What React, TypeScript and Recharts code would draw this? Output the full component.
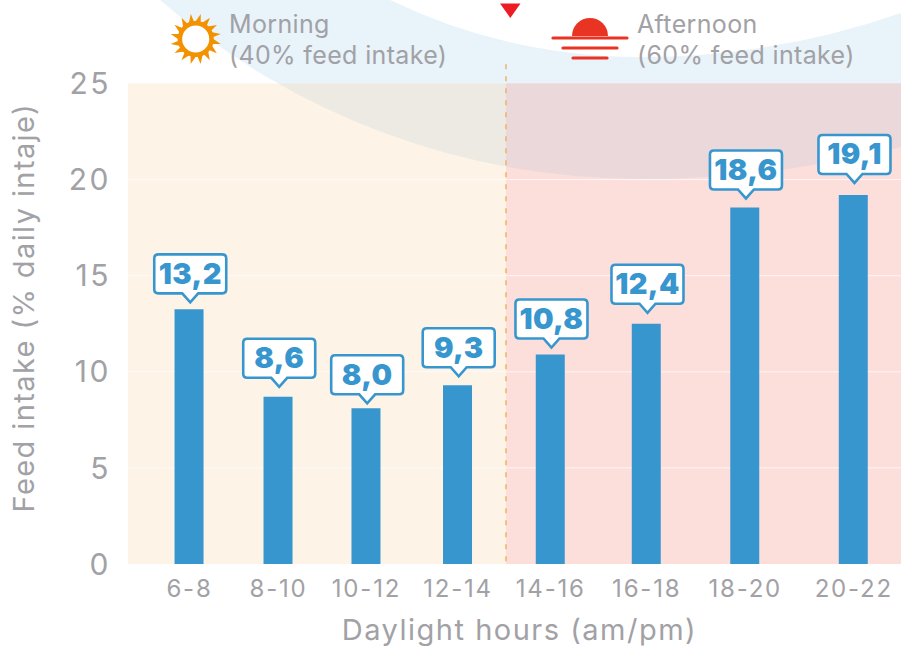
import React from "react";
import { BarChart, Bar, XAxis, YAxis, ReferenceArea, ReferenceLine, LabelList } from "recharts";

// Slots sit unevenly along the axis, so the axis is numeric (0-100 along its length).
const slotPositions = [7.96, 19.47, 30.85, 42.69, 54.69, 67.11, 79.85, 93.89];
const slotLabels = ["6-8", "8-10", "10-12", "12-14", "14-16", "16-18", "18-20", "20-22"];
const barValues = [13.25, 8.7, 8.1, 9.3, 10.9, 12.5, 18.55, 19.2];
const valueLabels = ["13,2", "8,6", "8,0", "9,3", "10,8", "12,4", "18,6", "19,1"];
const labelGaps = [7, 10, 5, 9, 7, 11, 9, 12];
const yTicks = [0, 5, 10, 15, 20, 25];
const gridValues = [5, 10, 15, 20];
const yMax = 25;
const noonPosition = 48.9;

const data = slotPositions.map((pos, i) => ({
  pos,
  value: barValues[i],
  text: valueLabels[i],
  gap: labelGaps[i],
}));

const FONT = "Inter, 'Open Sans', sans-serif";
const GREY = "#a1a1a6";
const BLUE = "#3896cf";
const ORANGE_BG = "#fdf3e7";
const PINK_BG = "#fcdedb";
const BAND_PATH =
  "M160 0 A733 733 0 0 0 640 179 A1080 1080 0 0 0 901 147 L901 13 A790 790 0 0 1 640 57 A577 577 0 0 1 390 0 Z";

function BandUnder() {
  return <path d={BAND_PATH} fill="#e9f3fa" />;
}

function shadedArea(base: string, tinted: string, clipId: string) {
  return (props: any) => {
    const { x, y, width, height } = props;
    return (
      <g>
        <defs>
          <clipPath id={clipId}>
            <path d={BAND_PATH} />
          </clipPath>
        </defs>
        <rect x={x} y={y} width={width} height={height} fill={base} />
        <rect x={x} y={y} width={width} height={height} fill={tinted} clipPath={`url(#${clipId})`} />
        {gridValues.map((v) => {
          const gy = y + height * (1 - v / yMax);
          return <line key={v} x1={x} x2={x + width} y1={gy} y2={gy} stroke="#ffffff" strokeOpacity={0.75} strokeWidth={1} />;
        })}
      </g>
    );
  };
}

function Sun() {
  const cx = 195.7;
  const cy = 39;
  const rays = Array.from({ length: 16 }, (_, i) => {
    const a = (i * Math.PI * 2) / 16 + 0.12;
    const pt = (r: number, da: number) =>
      `${cx + r * Math.cos(a + da)},${cy + r * Math.sin(a + da)}`;
    return <polygon key={i} points={`${pt(16, -0.2)} ${pt(25.5, 0.08)} ${pt(16, 0.2)}`} fill="#f39200" />;
  });
  return (
    <g>
      {rays}
      <circle cx={cx} cy={cy} r={15.8} fill="#fff" stroke="#f39200" strokeWidth={4.5} />
    </g>
  );
}

function Sunset() {
  const c = "#e93323";
  return (
    <g>
      <path d="M572 36 A18 18 0 0 1 608 36 Z" fill={c} />
      <line x1={553} x2={627} y1={38} y2={38} stroke={c} strokeWidth={3.2} strokeLinecap="round" />
      <line x1={563} x2={617} y1={48} y2={48} stroke={c} strokeWidth={3.2} strokeLinecap="round" />
      <line x1={573} x2={607} y1={58} y2={58} stroke={c} strokeWidth={3.2} strokeLinecap="round" />
    </g>
  );
}

function Header() {
  const t = { fontFamily: FONT, fontSize: 25, letterSpacing: 0.35, fill: GREY };
  return (
    <g>
      <Sun />
      <text x={229} y={33} {...t}>Morning</text>
      <text x={229} y={64} {...t}>(40% feed intake)</text>
      <Sunset />
      <text x={637} y={33} {...t}>Afternoon</text>
      <text x={637} y={64} {...t}>(60% feed intake)</text>
      <polygon points="500,3.5 520.5,3.5 510.3,18" fill="#ed1c24" />
    </g>
  );
}

function Callout(props: any) {
  const { x, y, width, index } = props;
  const d = data[index];
  const cx = x + width / 2 + 1.2;
  const tip = y - d.gap;
  const bottom = tip - 9;
  const top = bottom - 39;
  const l = cx - 36;
  const r = cx + 36;
  const rad = 4;
  const path = `M${l + rad} ${top} H${r - rad} Q${r} ${top} ${r} ${top + rad} V${bottom - rad} Q${r} ${bottom} ${r - rad} ${bottom} H${cx + 8} L${cx} ${tip} L${cx - 8} ${bottom} H${l + rad} Q${l} ${bottom} ${l} ${bottom - rad} V${top + rad} Q${l} ${top} ${l + rad} ${top} Z`;
  return (
    <g>
      <path d={path} fill="#fff" stroke={BLUE} strokeWidth={2.6} />
      <text x={cx} y={top + 29.5} textAnchor="middle" fontFamily={FONT} fontWeight={900} fontSize={29} letterSpacing={0.4} fill={BLUE}>
        {d.text}
      </text>
    </g>
  );
}

export default function App() {
  return (
    <div style={{ position: "absolute", left: 0, top: 0, width: 901, height: 646, background: "#fff" }}>
      <BarChart width={901} height={646} data={data} margin={{ top: 83.5, right: 0, bottom: 0, left: 0 }}>
        <BandUnder />
        <ReferenceArea x1={0} x2={noonPosition} y1={0} y2={yMax} shape={shadedArea(ORANGE_BG, "#eceae2", "band-a")} />
        <ReferenceArea x1={noonPosition} x2={100} y1={0} y2={yMax} shape={shadedArea(PINK_BG, "#ead8da", "band-b")} />
        <XAxis
          dataKey="pos"
          type="number"
          domain={[0, 100]}
          ticks={slotPositions}
          tickFormatter={(v: number) => slotLabels[slotPositions.indexOf(v)]}
          height={82}
          axisLine={false}
          tickLine={false}
          tick={{ fontFamily: FONT, fontSize: 24, letterSpacing: 1.8, fill: GREY }}
          tickMargin={10}
          interval={0}
          label={{ value: "Daylight hours (am/pm)", position: "insideBottom", offset: 6, dx: 5, style: { fontFamily: FONT, fontSize: 29, letterSpacing: 1.5, fill: GREY } }}
        />
        <YAxis
          width={128}
          domain={[0, yMax]}
          ticks={yTicks}
          axisLine={false}
          tickLine={false}
          tickMargin={11}
          tick={{ fontFamily: FONT, fontSize: 30, letterSpacing: 2.5, fill: GREY }}
          label={{ value: "Feed intake (% daily intaje)", angle: -90, position: "insideLeft", offset: 24, dy: -16, style: { fontFamily: FONT, fontSize: 29, letterSpacing: 1.4, fill: GREY, textAnchor: "middle" } }}
        />
        <ReferenceLine
          segment={[{ x: noonPosition, y: 26 }, { x: noonPosition, y: 0 }]}
          ifOverflow="visible"
          stroke="#f0b264"
          strokeWidth={1.5}
          strokeDasharray="5 7"
        />
        <Bar dataKey="value" fill={BLUE} barSize={29} isAnimationActive={false}>
          <LabelList dataKey="value" content={Callout} />
        </Bar>
        <Header />
      </BarChart>
    </div>
  );
}
